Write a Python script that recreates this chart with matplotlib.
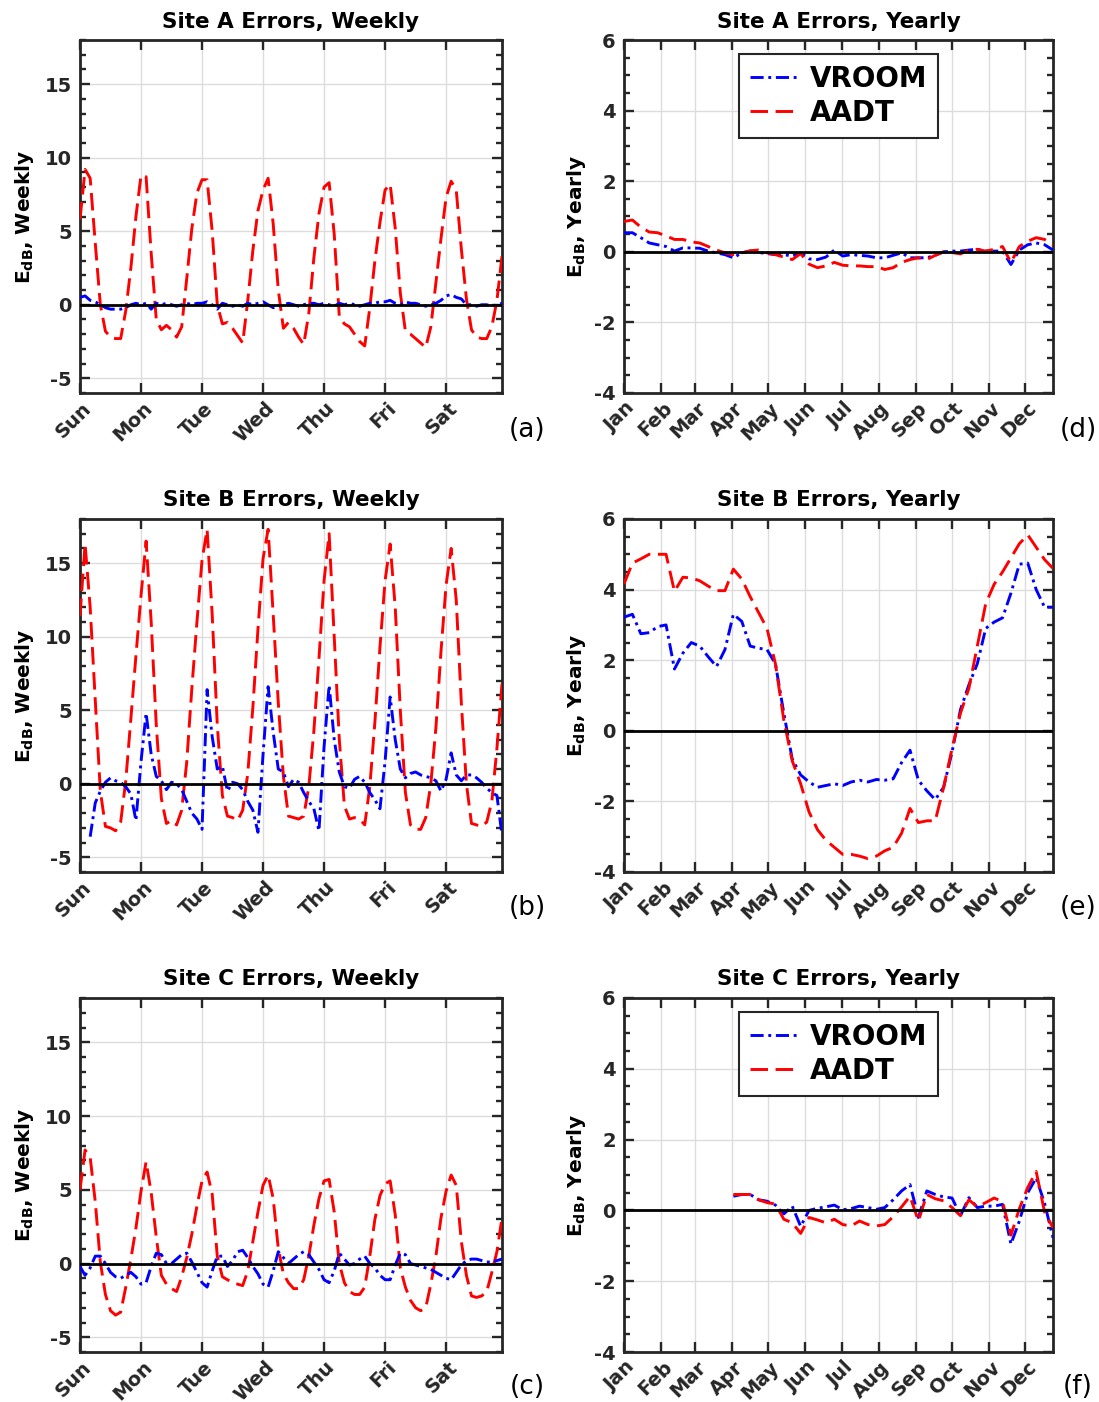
import numpy as np
import matplotlib
matplotlib.use("Agg")
import matplotlib.pyplot as plt
import matplotlib.transforms as mtransforms
from matplotlib.ticker import MultipleLocator

# ---- data ----
days = ["Sun", "Mon", "Tue", "Wed", "Thu", "Fri", "Sat"]
months = ["Jan", "Feb", "Mar", "Apr", "May", "Jun", "Jul", "Aug", "Sep", "Oct", "Nov", "Dec"]
month_start = [0, 31, 59, 90, 120, 151, 181, 212, 243, 273, 304, 334]

week_hours = np.arange(0, 167, 2)      # hour of week, 2 h steps
year_days = np.arange(0, 358, 7)       # day of year, weekly steps

nan = np.nan

a_aadt = [5.8, 9.2, 8.6, 4.2, 0.0, -1.8, -2.2, -2.3, -2.3, -0.4, 2.5, 6.0,
          8.8, 8.7, 3.5, -1.0, -1.7, -1.4, -1.7, -2.2, -1.5, 1.8, 5.2, 7.6,
          8.5, 8.5, 5.0, 0.0, -1.3, -1.2, -1.6, -2.1, -2.6, 0.3, 3.7, 6.4,
          7.8, 8.6, 5.5, 1.0, -1.6, -1.2, -1.6, -2.2, -2.7, -0.6, 3.2, 6.2,
          8.0, 8.3, 4.8, -0.8, -1.3, -1.5, -2.0, -2.5, -2.8, -0.2, 3.0, 5.6,
          7.8, 8.2, 5.2, 0.8, -1.8, -2.0, -2.3, -2.6, -2.9, -1.5, 1.5, 4.5,
          7.3, 8.4, 7.8, 3.8, 0.4, -1.7, -2.2, -2.3, -2.3, -1.5, 0.3, 3.3]
a_vroom = [0.5, 0.6, 0.3, 0.2, 0.0, -0.2, -0.3, -0.3, -0.3, -0.2, 0.0, 0.1,
           0.0, 0.1, -0.3, 0.1, 0.0, 0.1, 0.0, -0.1, 0.0, 0.1, 0.0, 0.1,
           0.1, 0.2, 0.0, -0.3, 0.1, 0.0, -0.1, 0.0, -0.1, 0.1, 0.0, 0.1,
           0.2, 0.0, -0.2, -0.1, 0.0, 0.1, 0.0, -0.1, 0.0, 0.1, 0.1, 0.0,
           0.1, 0.0, -0.1, 0.1, 0.0, 0.1, 0.0, -0.1, 0.0, 0.1, 0.1, 0.2,
           0.2, 0.3, 0.1, 0.0, 0.2, 0.1, 0.1, 0.0, -0.1, 0.0, 0.1, 0.3,
           0.6, 0.7, 0.5, 0.4, 0.0, 0.0, -0.1, 0.0, 0.0, -0.1, 0.0, 0.1]

b_aadt = [11.4, 16.3, 12.0, 5.7, -0.5, -2.9, -3.0, -3.2, -2.6, 0.2, 4.4, 8.7,
          12.8, 16.5, 11.0, 4.0, -1.0, -2.7, -2.5, -2.8, -1.8, 1.5, 6.5, 11.0,
          15.2, 17.3, 11.5, 4.0, -0.8, -2.2, -2.3, -2.5, -1.8, 0.7, 5.2, 10.5,
          15.3, 17.3, 11.5, 5.5, 0.5, -2.2, -2.3, -2.4, -2.2, -0.2, 3.6, 8.5,
          13.8, 17.0, 10.0, 3.0, -1.5, -2.4, -2.3, -2.4, -2.8, -0.2, 4.2, 9.3,
          13.8, 16.3, 12.0, 5.0, -0.6, -2.8, -3.1, -3.1, -2.3, 0.0, 3.8, 9.0,
          13.5, 16.0, 12.5, 5.5, 0.0, -2.7, -2.8, -2.9, -2.6, -1.2, 2.4, 6.8]
b_vroom = [nan, nan, -3.6, -1.3, -0.5, 0.1, 0.4, 0.2, 0.1, -0.2, -0.7, -2.5,
           1.5, 4.8, 2.0, 0.5, 0.2, -0.4, 0.1, 0.0, -0.4, -1.2, -2.0, -2.4,
           -3.1, 6.4, 3.2, 1.0, 1.2, -0.5, 0.1, 0.0, -0.4, -1.2, -1.8, -3.3,
           2.0, 6.6, 3.5, 1.0, 0.8, -0.2, 0.3, 0.1, -0.6, -1.2, -1.7, -3.2,
           2.5, 6.7, 3.0, 0.8, -0.2, -0.3, 0.3, 0.5, 0.1, -0.6, -1.1, -1.7,
           1.5, 5.9, 3.0, 1.0, 0.4, 0.7, 0.8, 0.6, 0.5, 0.4, 0.2, -0.5,
           0.3, 2.1, 0.6, 0.2, 0.6, 0.6, 0.4, 0.1, -0.3, -0.6, -0.8, -3.5]

c_aadt = [5.0, 7.7, 7.2, 4.2, 0.1, -2.1, -3.2, -3.5, -3.3, -1.6, 0.3, 2.4,
          4.9, 6.9, 4.8, 1.8, -0.8, -1.4, -1.7, -1.9, -0.9, 0.4, 2.0, 3.9,
          5.6, 6.2, 4.7, 0.5, -0.9, -1.1, -1.3, -1.4, -1.5, -0.5, 1.5, 3.5,
          5.3, 6.0, 4.4, 1.0, -0.7, -1.3, -1.7, -1.7, -1.1, 0.5, 2.6, 4.4,
          5.6, 5.7, 3.5, 0.0, -1.3, -1.9, -2.1, -2.1, -1.6, 0.5, 3.0, 4.6,
          5.4, 5.6, 3.3, -0.3, -1.6, -2.5, -3.0, -3.2, -3.0, -1.4, 0.5, 3.1,
          4.9, 6.0, 5.3, 1.5, -0.8, -2.2, -2.3, -2.2, -1.9, -0.6, 0.8, 3.1]
c_vroom = [-0.2, -0.8, -0.3, 0.5, 0.5, 0.0, -0.6, -0.9, -1.0, -0.8, -0.6, -0.9,
           -1.4, -1.3, -0.2, 0.7, 0.6, 0.0, 0.0, 0.3, 0.6, 0.7, 0.1, -0.6,
           -1.3, -1.6, -0.5, 0.5, 0.5, -0.2, 0.2, 0.8, 0.9, 0.4, -0.2, -0.7,
           -1.4, -1.6, -0.5, 0.8, 0.4, 0.0, 0.3, 0.6, 0.8, 0.6, 0.1, -0.4,
           -1.1, -1.3, -0.5, 0.7, 0.3, -0.1, 0.0, 0.3, 0.5, 0.0, -0.3, -0.8,
           -1.1, -1.1, -0.1, 0.7, 0.6, 0.0, -0.1, -0.2, -0.3, -0.4, -0.6, -0.8,
           -1.0, -1.1, -0.6, -0.1, 0.2, 0.3, 0.3, 0.2, 0.1, 0.1, 0.2, 0.3]

d_aadt = [0.86, 0.9, 0.7, 0.56, 0.54, 0.45, 0.35, 0.35, 0.28, 0.25, 0.15, 0.05, -0.03,
          -0.08, -0.03, 0.03, 0.05, -0.03, -0.08, -0.15, -0.22, -0.05, -0.35, -0.45, -0.4, -0.3,
          -0.38, -0.4, -0.4, -0.42, -0.42, -0.5, -0.45, -0.3, -0.22, -0.17, -0.22, -0.1, 0.0,
          -0.02, -0.06, 0.05, 0.07, 0.02, 0.07, 0.15, -0.3, 0.15, 0.3, 0.4, 0.35, 0.2]
d_vroom = [0.54, 0.54, 0.4, 0.25, 0.2, 0.15, 0.02, 0.11, 0.11, 0.1, 0.02, -0.03, -0.08,
           -0.17, -0.03, 0.02, -0.02, -0.05, -0.08, -0.08, -0.12, -0.03, -0.2, -0.22, -0.15, 0.05,
           -0.12, -0.08, -0.1, -0.12, -0.17, -0.17, -0.1, -0.03, -0.17, -0.17, -0.17, -0.1, 0.0,
           0.02, 0.02, 0.05, 0.07, 0.02, 0.02, 0.02, -0.36, 0.05, 0.2, 0.25, 0.2, 0.05]

e_aadt = [4.16, 4.75, 4.87, 5.0, 5.0, 5.0, 3.95, 4.35, 4.33, 4.25, 4.1, 3.97, 3.97,
          4.58, 4.3, 3.8, 3.35, 2.9, 1.9, 0.3, -0.85, -1.5, -2.3, -2.8, -3.1, -3.3,
          -3.5, -3.5, -3.55, -3.62, -3.55, -3.4, -3.3, -2.9, -2.2, -2.6, -2.55, -2.55, -1.6,
          -0.5, 0.5, 1.2, 2.4, 3.6, 4.15, 4.5, 4.9, 5.3, 5.55, 5.2, 4.85, 4.6]
e_vroom = [3.22, 3.3, 2.75, 2.78, 2.95, 3.0, 1.75, 2.2, 2.5, 2.4, 2.1, 1.82, 2.3,
           3.3, 3.1, 2.4, 2.34, 2.3, 1.9, 0.5, -0.8, -1.25, -1.45, -1.6, -1.55, -1.5,
           -1.55, -1.45, -1.4, -1.45, -1.38, -1.4, -1.36, -0.9, -0.55, -1.4, -1.7, -1.95, -1.6,
           -0.6, 0.6, 1.3, 1.9, 2.9, 3.08, 3.2, 3.9, 4.72, 4.75, 4.0, 3.5, 3.5]

f_aadt = [nan] * 13 + [
          0.45, 0.45, 0.45, 0.3, 0.22, 0.18, -0.25, -0.35, -0.65, -0.2, -0.27, -0.35, -0.25,
          -0.4, -0.44, -0.3, -0.4, -0.44, -0.4, -0.18, 0.1, 0.4, -0.3, 0.45, 0.33, 0.27,
          0.08, -0.15, 0.3, 0.1, 0.22, 0.35, 0.25, -0.7, 0.05, 0.65, 1.1, -0.05, -0.49]
f_vroom = [nan] * 13 + [
           0.4, 0.45, 0.45, 0.3, 0.26, 0.15, -0.1, 0.12, -0.45, 0.0, 0.06, 0.1, 0.15,
           0.02, 0.05, 0.12, 0.08, 0.03, 0.08, 0.3, 0.55, 0.73, -0.2, 0.55, 0.45, 0.38,
           0.35, -0.15, 0.36, 0.08, 0.12, 0.12, 0.17, -0.95, -0.3, 0.5, 0.92, 0.2, -0.77]

# ---- style ----
plt.rcParams["font.family"] = "DejaVu Sans"
plt.rcParams["font.weight"] = "bold"
plt.rcParams["mathtext.default"] = "bf"
plt.rcParams["axes.unicode_minus"] = False

SPINE = "#262626"
VROOM_STYLE = dict(color="#0000ff", lw=2.1, linestyle=(0, (4.5, 1.6, 1.0, 1.6)), label="VROOM")
AADT_STYLE = dict(color="#ff0000", lw=2.1, linestyle=(0, (6.0, 2.6)), label="AADT")

W, H = 1099, 1402
col_x = [(80, 422), (624, 429)]
row_y = [(40, 353), (519, 353), (998, 354)]
tag_y = [430, 908, 1387]


def make_axes(fig, col, row):
    x0, w = col_x[col]
    y0, h = row_y[row]
    return fig.add_axes([x0 / W, 1 - (y0 + h) / H, w / W, h / H])


def style_axes(fig, ax, minor_step):
    for s in ax.spines.values():
        s.set_linewidth(2.0)
        s.set_color(SPINE)
    ax.yaxis.set_minor_locator(MultipleLocator(minor_step))
    ax.tick_params(which="both", direction="in", top=True, right=True,
                   color=SPINE, width=1.7)
    ax.tick_params(which="major", length=7, labelsize=14, pad=6)
    ax.tick_params(axis="x", which="major", pad=9)
    ax.tick_params(which="minor", length=4.5)
    ax.tick_params(axis="x", which="minor", bottom=False, top=False)
    ax.grid(True, which="major", color="#dcdcdc", lw=1.0)
    ax.set_axisbelow(True)
    ax.axhline(0, color="black", lw=2.0, zorder=4)
    # rotated day / month labels sit a little right of their tick
    shift = mtransforms.ScaledTranslation(8 / 100, 0, fig.dpi_scale_trans)
    for lab in ax.get_xticklabels():
        lab.set_transform(lab.get_transform() + shift)
    for lab in ax.get_xticklabels() + ax.get_yticklabels():
        lab.set_fontweight("bold")
        lab.set_color("#262626")


def weekly_panel(fig, row, title, vroom, aadt, tag):
    ax = make_axes(fig, 0, row)
    ax.plot(week_hours, aadt, **AADT_STYLE, zorder=3)
    ax.plot(week_hours, vroom, **VROOM_STYLE, zorder=3)
    ax.set_xlim(0, 166)
    ax.set_ylim(-6, 18)
    ax.set_yticks([-5, 0, 5, 10, 15])
    ax.set_xticks(np.arange(0, 168, 24))
    ax.set_xticklabels(days, rotation=45, ha="right", va="center",
                       rotation_mode="anchor")
    style_axes(fig, ax, 1)
    ax.set_title(title, fontsize=15.5, fontweight="bold", pad=9)
    ax.set_ylabel(r"E$_{dB}$, Weekly", fontsize=14.5, fontweight="bold")
    ax.yaxis.set_label_coords(-0.105, 0.5)
    fig.text(527 / W, 1 - tag_y[row] / H, tag, fontsize=19, fontweight="normal",
             ha="center", va="center")
    return ax


def yearly_panel(fig, row, title, vroom, aadt, tag, legend=False):
    ax = make_axes(fig, 1, row)
    ax.plot(year_days, vroom, **VROOM_STYLE, zorder=3)
    ax.plot(year_days, aadt, **AADT_STYLE, zorder=3)
    ax.set_xlim(0, 357)
    ax.set_ylim(-4, 6)
    ax.set_yticks([-4, -2, 0, 2, 4, 6])
    ax.set_xticks(month_start)
    ax.set_xticklabels(months, rotation=45, ha="right", va="center",
                       rotation_mode="anchor")
    style_axes(fig, ax, 0.5)
    ax.set_title(title, fontsize=15.5, fontweight="bold", pad=9)
    ax.set_ylabel(r"E$_{dB}$, Yearly", fontsize=14.5, fontweight="bold")
    ax.yaxis.set_label_coords(-0.085, 0.5)
    if legend:
        leg = ax.legend(loc="upper center", fontsize=20, handlelength=1.8,
                        handletextpad=0.35, labelspacing=0.2, borderpad=0.4,
                        fancybox=False, framealpha=1, edgecolor="#262626")
        leg.get_frame().set_linewidth(1.5)
        for t in leg.get_texts():
            t.set_fontweight("bold")
    fig.text(1078 / W, 1 - tag_y[row] / H, tag, fontsize=19, fontweight="normal",
             ha="center", va="center")
    return ax


fig = plt.figure(figsize=(W / 100, H / 100), dpi=100)

weekly_panel(fig, 0, "Site A Errors, Weekly", a_vroom, a_aadt, "(a)")
weekly_panel(fig, 1, "Site B Errors, Weekly", b_vroom, b_aadt, "(b)")
weekly_panel(fig, 2, "Site C Errors, Weekly", c_vroom, c_aadt, "(c)")
yearly_panel(fig, 0, "Site A Errors, Yearly", d_vroom, d_aadt, "(d)", legend=True)
yearly_panel(fig, 1, "Site B Errors, Yearly", e_vroom, e_aadt, "(e)")
yearly_panel(fig, 2, "Site C Errors, Yearly", f_vroom, f_aadt, "(f)", legend=True)

fig.savefig("out.png", dpi=100)
